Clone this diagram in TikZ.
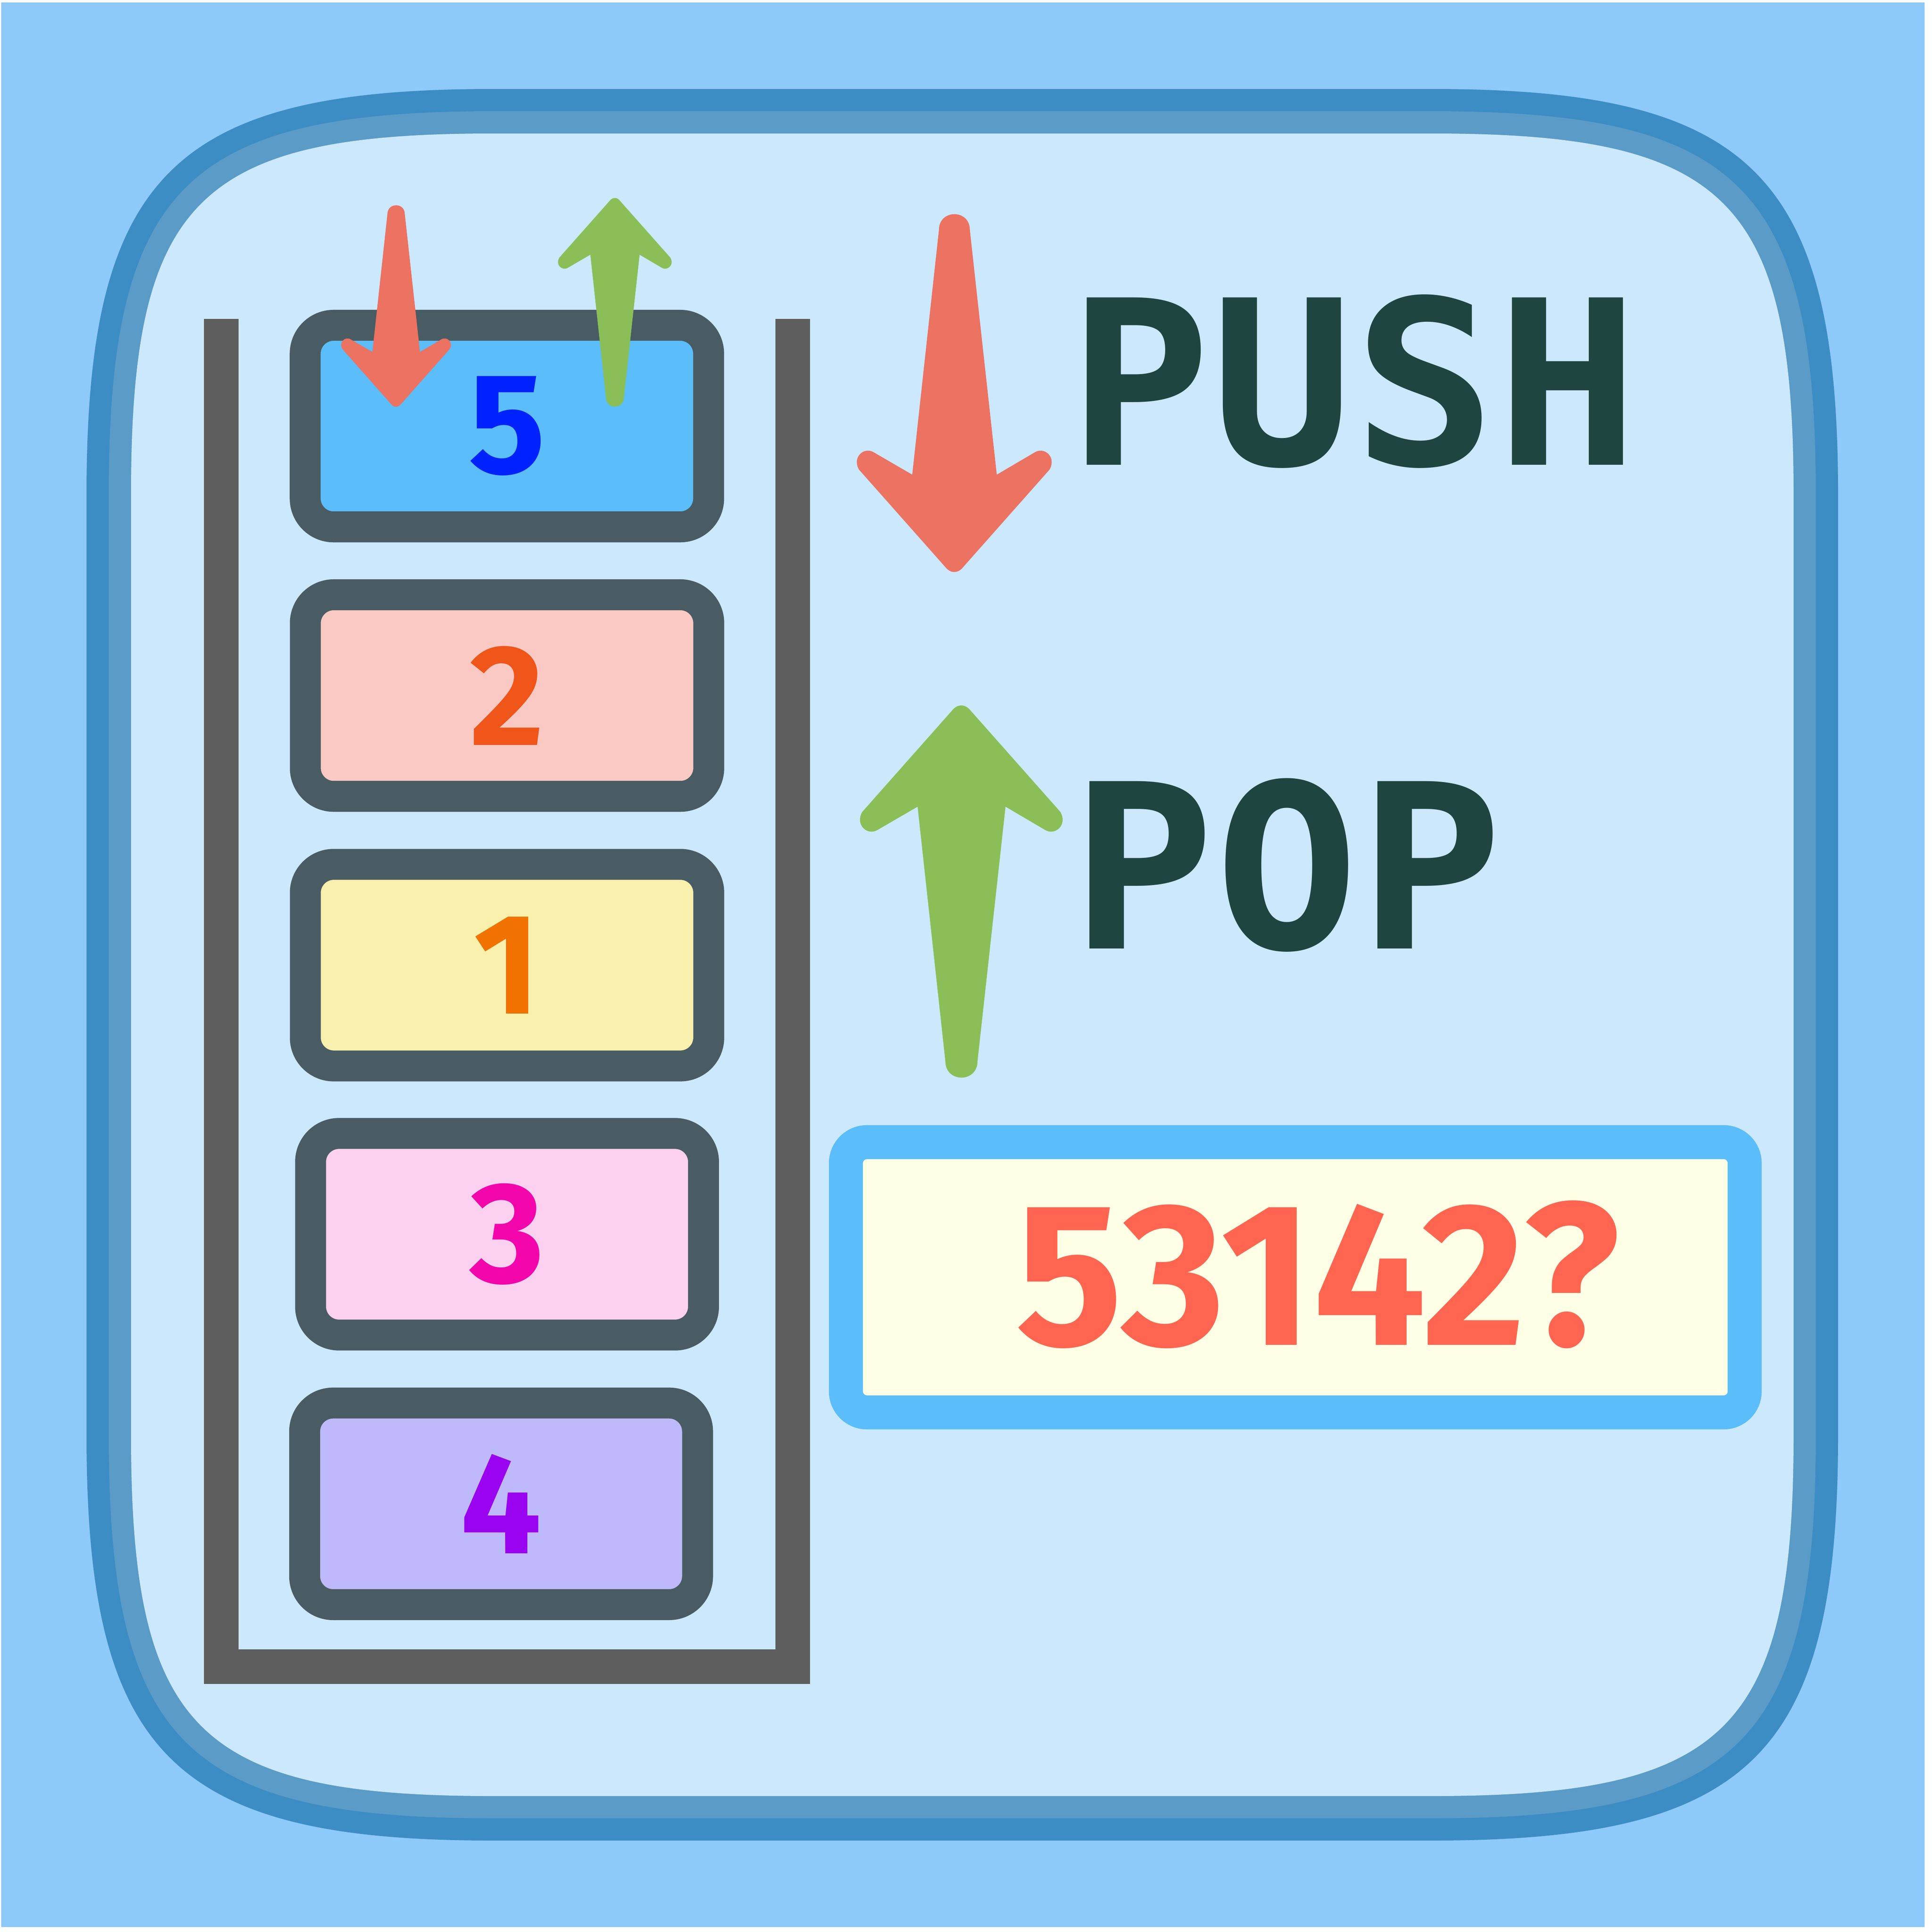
\documentclass[tikz,border=0pt]{standalone}
\usepackage{fontspec}
\usepackage{graphicx}
\newfontfamily\digitfont{Fira Sans}
\newfontfamily\labelfont{DejaVu Sans Mono}
\definecolor{bgblue}{HTML}{8DC9F9}
\definecolor{frameDark}{HTML}{3D8DC5}
\definecolor{frameLight}{HTML}{5A9BC7}
\definecolor{paneBlue}{HTML}{CBE8FD}
\definecolor{wallgray}{HTML}{5E5E5E}
\definecolor{boxborder}{HTML}{4A5C63}
\definecolor{fillfive}{HTML}{5BBDF9}
\definecolor{filltwo}{HTML}{FBC9C4}
\definecolor{fillone}{HTML}{FAF0AE}
\definecolor{fillthree}{HTML}{FBD1EF}
\definecolor{fillfour}{HTML}{BEB9FA}
\definecolor{digfive}{HTML}{0022FF}
\definecolor{digtwo}{HTML}{F05519}
\definecolor{digone}{HTML}{F27200}
\definecolor{digthree}{HTML}{F205AA}
\definecolor{digfour}{HTML}{9A03F0}
\definecolor{arrowred}{HTML}{EC7262}
\definecolor{arrowgreen}{HTML}{8ABF57}
\definecolor{labelgreen}{HTML}{1F4540}
\definecolor{resultblue}{HTML}{5BBDF9}
\definecolor{ivory}{HTML}{FFFFE5}
\definecolor{resultred}{HTML}{FF6550}
\newcommand\squirclepath[6]{(#1,#2+#5) .. controls (#1,#2+#6) and (#1+#6,#2) .. (#1+#5,#2) -- (#3-#5,#2) .. controls (#3-#6,#2) and (#3,#2+#6) .. (#3,#2+#5) -- (#3,#4-#5) .. controls (#3,#4-#6) and (#3-#6,#4) .. (#3-#5,#4) -- (#1+#5,#4) .. controls (#1+#6,#4) and (#1,#4-#6) .. (#1,#4-#5) -- cycle}
\newcommand\arrowshape{(-12.4,12) .. controls (-12.4,-5) and (12.6,-5) .. (12.6,12) -- (34.4,210) -- (65,192) .. controls (73,187) and (83,196) .. (77,206) -- (7,285) .. controls (3,290) and (-3,290) .. (-7,285) -- (-77,206) .. controls (-83,196) and (-73,187) .. (-65,192) -- (-34,210) -- cycle}
\begin{document}
\begin{tikzpicture}[x=0.01cm,y=-0.01cm,
  stackbox/.style={draw=boxborder, line width=0.25cm, rounded corners=2.3mm,
    minimum height=1.63cm, inner sep=0pt,
    font=\digitfont\bfseries\fontsize{33}{36}\selectfont},
  biglabel/.style={inner sep=0pt, text=labelgreen,
    font=\labelfont\bfseries\fontsize{56.8}{60}\selectfont}]
\useasboundingbox (0,0) rectangle (1563,1563);
\fill[white] (0,0) rectangle (1563,1563);
\fill[bgblue] (1,2) rectangle (1557,1559);
% frame
\fill[frameDark] \squirclepath{70}{72}{1487}{1489}{328}{70};
\fill[frameLight] \squirclepath{88}{90}{1469}{1471}{310}{62};
\fill[paneBlue] \squirclepath{106}{108}{1451}{1453}{292}{54};
% stack container
\fill[wallgray] (165,258) rectangle (193,1349);
\fill[wallgray] (627.3,258) rectangle (655.2,1349);
\fill[wallgray] (165,1334.4) rectangle (655.2,1362.3);
% stack boxes
\node[stackbox, fill=fillfive, text=digfive, minimum width=3.262cm] (b5) at (410.1,344.7) {5};
\node[stackbox, fill=filltwo, text=digtwo, minimum width=3.262cm] (b2) at (410.2,562.7) {2};
\node[stackbox, fill=fillone, text=digone, minimum width=3.262cm] (b1) at (410.2,780.8) {1};
\node[stackbox, fill=fillthree, text=digthree, minimum width=3.177cm] (b3) at (410.2,998.5) {3};
\node[stackbox, fill=fillfour, text=digfour, minimum width=3.177cm] (b4) at (405.4,1216.6) {4};
% small arrows
\fill[arrowred, shift={(320.4,166.5)}, scale=0.563] \arrowshape;
\fill[arrowgreen, shift={(497.4,328.5)}, xscale=0.583, yscale=-0.583] \arrowshape;
% big arrows
\fill[arrowred, shift={(772,174)}] \arrowshape;
\fill[arrowgreen, shift={(777.7,871)}, xscale=1.04, yscale=-1.04] \arrowshape;
% labels
\node[biglabel] (push) at (1095,308.5) {\scalebox{0.96}[0.93]{PUSH}};
\node[biglabel] (pop) at (1041,700) {\scalebox{0.97}[0.93]{POP}};
% result box
\node[draw=resultblue, fill=ivory, line width=0.275cm, rounded corners=1.7mm,
  minimum width=7.267cm, minimum height=2.185cm, inner sep=0pt] (res) at (1047.9,1033.3) {};
\node[inner sep=0pt, text=resultred, font=\digitfont\bfseries\fontsize{44.6}{48}\selectfont] (seq) at (1066,1031) {\scalebox{1.03}[1.05]{53142?}};
\end{tikzpicture}
\end{document}
